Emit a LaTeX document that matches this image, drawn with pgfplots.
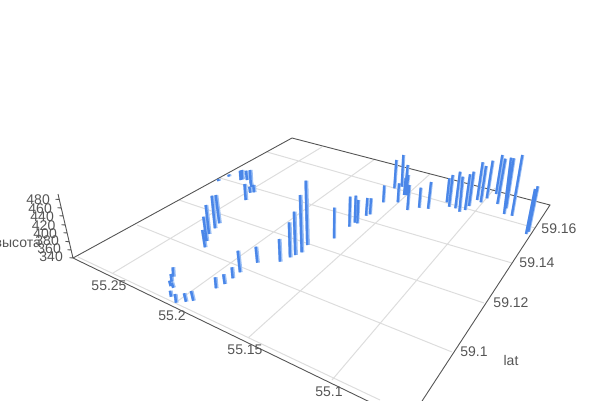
\documentclass[border=0pt]{standalone}
\usepackage{pgfplots}
\usepackage{fontspec}
\setmainfont{Liberation Sans}
\pgfplotsset{compat=1.18}
\definecolor{gridgray}{HTML}{DDDDDD}
\definecolor{edgegray}{HTML}{555555}
\definecolor{labelgray}{HTML}{555555}
\definecolor{barblue}{HTML}{4A86E8}
\definecolor{barlight}{HTML}{9CC0F5}
\tikzset{lab/.style={font=\fontsize{14}{14}\selectfont, text=labelgray, inner sep=0pt}}

% chart was a perspective 3d bar plot: everything is kept in projected picture coordinates
\pgfplotstableread{
x y
113 273
322 147
nan nan
175 303
375 159
nan nan
248 338
430 174
nan nan
332 380
495 188
nan nan
535 228
267 152
nan nan
512 263
220 178
nan nan
484 303
179 200
nan nan
452 352
137 225
nan nan
78 257
380 400
}\gridlines

\pgfplotstableread{
x y
73 258
292 138
550 205
409 421
73 258
nan nan
73 258
58 194
nan nan
73 258
69.5 257.7
nan nan
71 250
67.5 249.7
nan nan
69 241.7
65.5 241.4
nan nan
67 233
63.5 232.7
nan nan
65 225
61.5 224.7
nan nan
63 216
59.5 215.7
nan nan
61 208
57.5 207.7
nan nan
59 199.5
55.5 199.2
}\edges

% bars on the left, wider in the projection
\pgfplotstableread{
x y
218 179
218.5 181
nan nan
228.5 174.5
229 176.5
nan nan
240 170.7
240.7 180
nan nan
241.7 170
242.3 179.3
nan nan
246 170.7
247 180
nan nan
250 170
250.7 183
nan nan
250.5 182
251.7 187
nan nan
244.5 184
245.7 200
nan nan
249.3 186.7
250.3 192.7
nan nan
253.3 185
254 192.3
nan nan
211.7 195.7
215 228.3
nan nan
215.7 195
219.3 223.3
nan nan
205.7 205
209 234
nan nan
203.3 216.7
206.7 241
nan nan
202.3 230
205 247.3
nan nan
172.7 267.3
173.3 276.7
nan nan
170.7 274
171.7 281.7
nan nan
169.3 280.7
170.7 286
nan nan
171.7 282.7
173.3 287.7
nan nan
170 290.7
171 296.7
nan nan
175 294
176 302.7
nan nan
184 293.3
186 301.7
nan nan
191 291
193.3 300.7
nan nan
215 277.3
216 288.3
nan nan
223.3 274.3
224.7 284
nan nan
231.7 267.3
232.7 278.3
nan nan
237.7 250.7
240 272.3
nan nan
255.7 246.7
257.3 262.7
nan nan
279 239
280 261.7
nan nan
289 222.3
290 257.3
nan nan
294 211.7
295.3 255
nan nan
300 195
301.7 252.3
nan nan
305.7 180.7
307.3 245
}\barsleft

\pgfplotstableread{
x y
334.3 207.7
334 238.3
nan nan
350 196.7
349.3 226.7
nan nan
355.7 195.7
354.7 222.7
nan nan
358.3 200
357.3 223.3
nan nan
367.3 198
366 215.7
nan nan
371 198.3
370 214.3
nan nan
384.2 185.5
383.2 202.3
nan nan
396.3 160
394.3 188.3
nan nan
399 183.3
397.7 202.3
nan nan
403.3 155
401.7 186.7
nan nan
407.7 165
405 191.7
nan nan
409.3 185
407.3 210
nan nan
408.3 175
406 195
nan nan
405.7 178
404 195
nan nan
420.7 187.7
419 207.7
nan nan
431 182
428 208.7
nan nan
449.3 178.3
446.7 202.3
nan nan
452.7 175
449 206.7
nan nan
460 171.7
455.3 208.3
nan nan
462.7 176.7
459.3 211.7
nan nan
470 174.3
465 210
nan nan
473.7 171.7
469 206
nan nan
482.7 162.3
477 200
nan nan
486 166
480.7 202.3
nan nan
492.7 160.7
486.7 198.3
nan nan
502.3 155
496 194
nan nan
505.3 158.7
497.3 204
nan nan
511 157.7
504 214
nan nan
513.7 158.3
506 208.3
nan nan
522.3 155
511.7 215.7
nan nan
535 189
526 234
nan nan
537.7 186.3
528.3 231.7
}\barsright

\begin{document}
\begin{tikzpicture}
\useasboundingbox (0,0) rectangle (600pt,400pt);
\begin{axis}[
scale only axis, width=600pt, height=400pt,
xmin=0, xmax=600, ymin=0, ymax=400, y dir=reverse,
axis lines=none, unbounded coords=jump,
]
\addplot[gridgray, line width=1pt] table {\gridlines};
\addplot[edgegray, line width=0.9pt] table {\edges};
\addplot[barlight, line width=4pt, xshift=0.6pt] table {\barsleft};
\addplot[barblue, line width=2.4pt] table {\barsleft};
\addplot[barlight, line width=3.2pt, xshift=0.4pt] table {\barsright};
\addplot[barblue, line width=2.2pt] table {\barsright};

\node[lab] at (axis cs:109,286) {55.25};
\node[lab] at (axis cs:172,316) {55.2};
\node[lab] at (axis cs:245,350) {55.15};
\node[lab] at (axis cs:329,392) {55.1};
\node[lab] at (axis cs:559,229) {59.16};
\node[lab] at (axis cs:537,263) {59.14};
\node[lab] at (axis cs:511,303) {59.12};
\node[lab] at (axis cs:474,352) {59.1};
\node[lab] at (axis cs:511,360) {lat};
\node[lab, anchor=east] at (axis cs:41,244) {высота};
\node[lab, anchor=east] at (axis cs:50,200) {480};
\node[lab, anchor=east] at (axis cs:52,209) {460};
\node[lab, anchor=east] at (axis cs:54,217) {440};
\node[lab, anchor=east] at (axis cs:55.5,226) {420};
\node[lab, anchor=east] at (axis cs:57,234) {400};
\node[lab, anchor=east] at (axis cs:59,241) {380};
\node[lab, anchor=east] at (axis cs:61,249) {360};
\node[lab, anchor=east] at (axis cs:63,257) {340};
\end{axis}
\end{tikzpicture}
\end{document}
